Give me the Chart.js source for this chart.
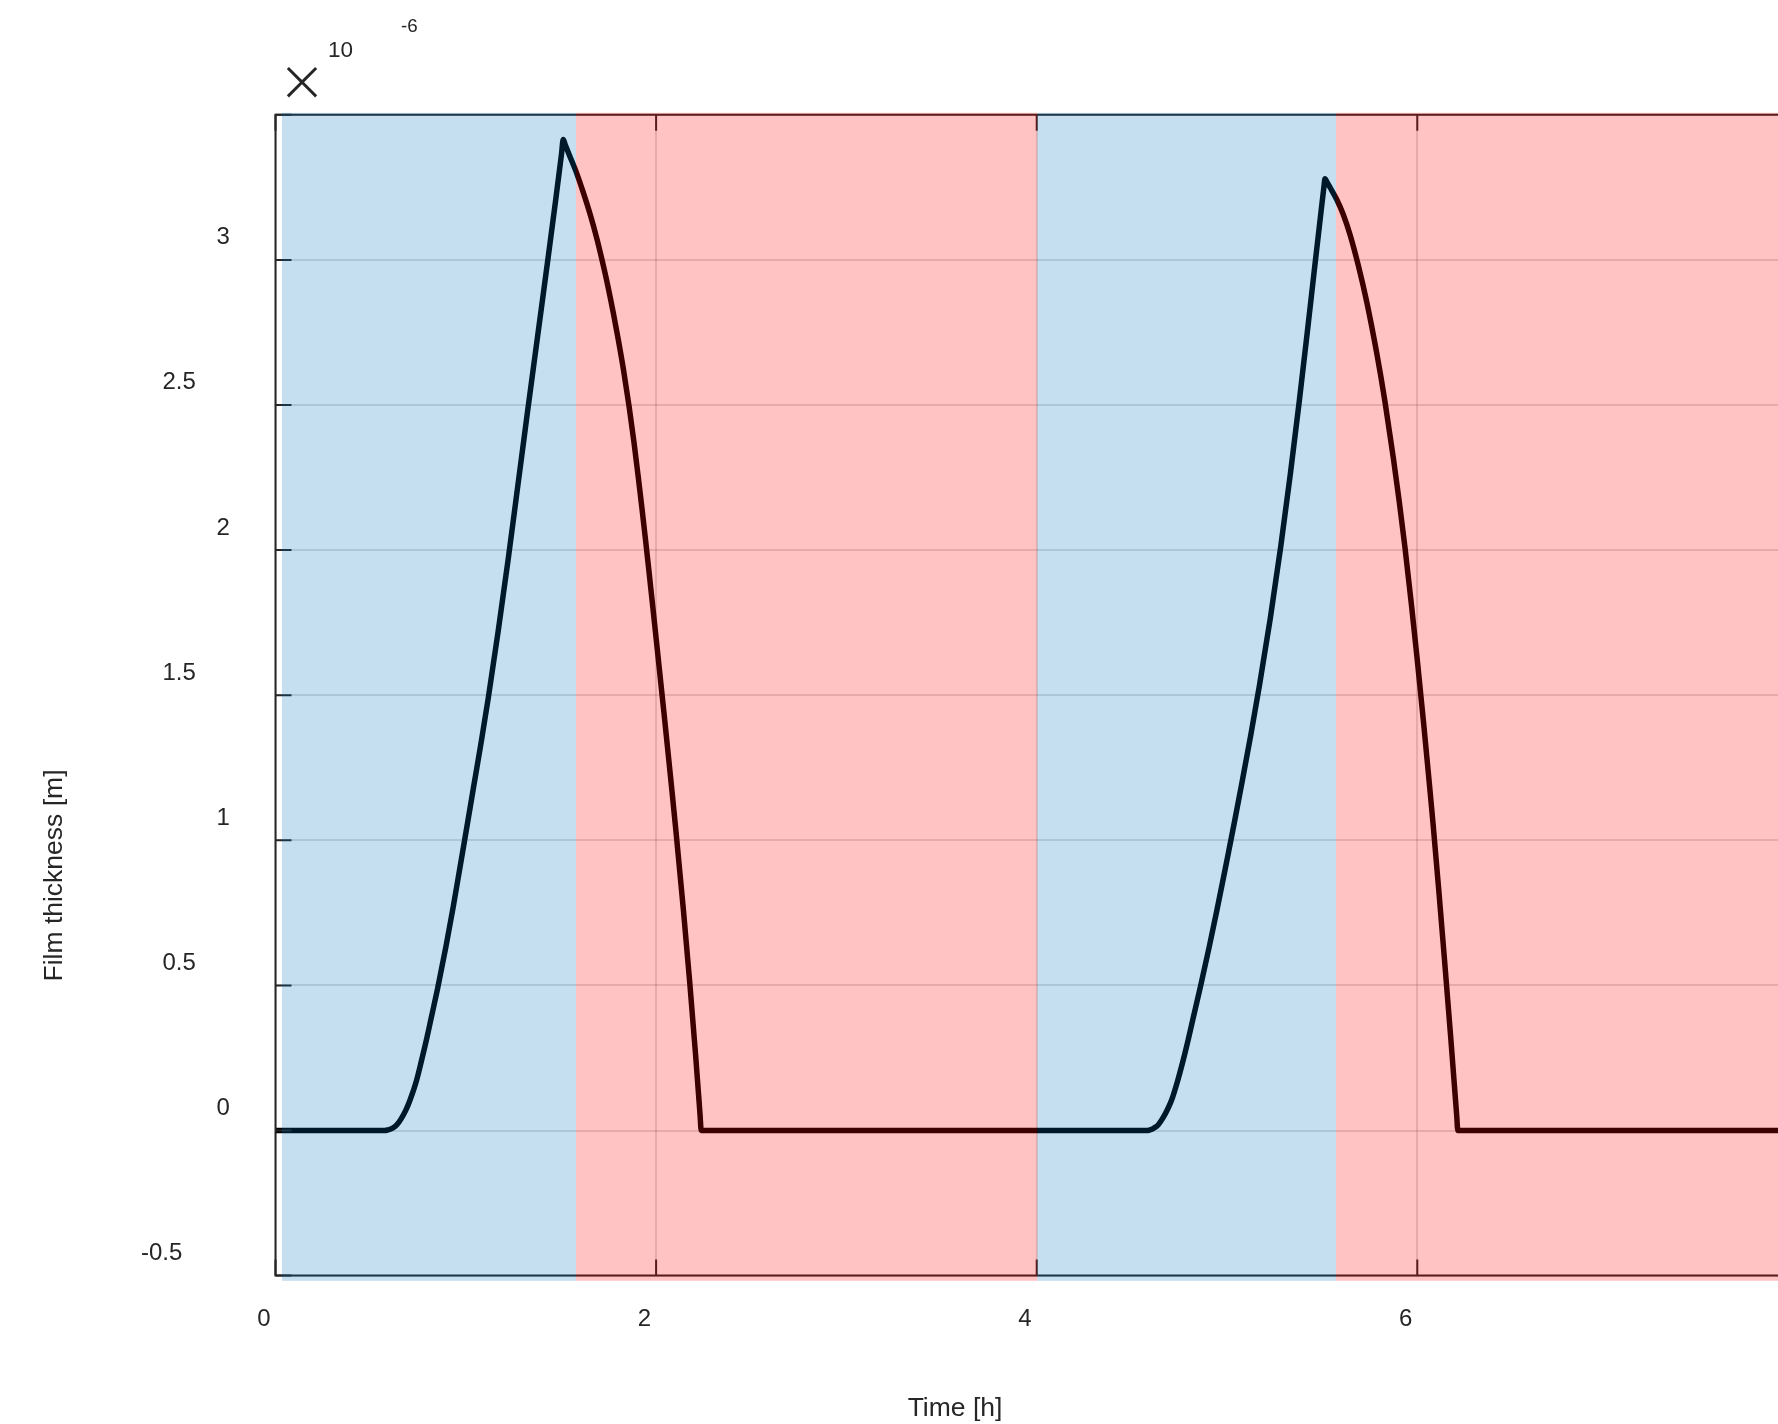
<!DOCTYPE html>
<html>
<head>
<meta charset="utf-8">
<title>Film thickness</title>
<script src="https://cdn.jsdelivr.net/npm/chart.js@4.4.1/dist/chart.umd.min.js"></script>
<style>
html, body { margin: 0; padding: 0; background: #fff; overflow: hidden; }
canvas { display: block; }
</style>
</head>
<body>
<canvas id="filmChart" width="1860" height="1424"></canvas>
<script>
// time axis [h] and film thickness [x 1e-6 m]
var timeH = [
    0, 0.575, 0.59, 0.615, 0.637, 0.66, 0.685, 0.707, 0.74, 0.768, 0.794, 0.816, 0.852, 0.896, 0.934, 0.970,
    0.992, 1.04, 1.08, 1.118, 1.17, 1.223, 1.273, 1.323, 1.378, 1.434, 1.475, 1.503, 1.512, 1.522, 1.545,
    1.579, 1.615, 1.653, 1.69, 1.714, 1.745, 1.775, 1.80, 1.828, 1.858, 1.884, 1.906, 1.926, 1.945, 1.964,
    1.983, 2.002, 2.02, 2.041, 2.063, 2.084, 2.105, 2.143, 2.177, 2.207, 2.231, 2.237,
    4.578, 4.59, 4.605, 4.62, 4.639, 4.665, 4.689, 4.709, 4.74, 4.770, 4.795, 4.820, 4.862, 4.907, 4.946,
    4.986, 5.011, 5.04, 5.077, 5.125, 5.17, 5.228, 5.283, 5.333, 5.38, 5.422, 5.462, 5.495, 5.509, 5.515,
    5.524, 5.545, 5.576, 5.61, 5.647, 5.690, 5.734, 5.787, 5.830, 5.874, 5.905, 5.935, 5.97, 6.0, 6.033,
    6.066, 6.083, 6.113, 6.143, 6.175, 6.207, 6.213, 8
];
var thicknessE6 = [
    0, 0, 0.002, 0.008, 0.019, 0.04, 0.07, 0.105, 0.17, 0.243, 0.315, 0.381, 0.49, 0.635, 0.771, 0.909,
    0.993, 1.18, 1.335, 1.49, 1.72, 1.97, 2.22, 2.47, 2.74, 3.015, 3.22, 3.365, 3.415, 3.398, 3.36,
    3.305, 3.237, 3.158, 3.07, 3.005, 2.915, 2.818, 2.73, 2.624, 2.495, 2.37, 2.253, 2.142, 2.032, 1.918,
    1.802, 1.684, 1.572, 1.441, 1.301, 1.166, 1.027, 0.763, 0.508, 0.265, 0.054, 0,
    0, 0.001, 0.004, 0.01, 0.02, 0.045, 0.075, 0.105, 0.17, 0.243, 0.31, 0.381, 0.5, 0.634, 0.756,
    0.886, 0.969, 1.066, 1.193, 1.363, 1.532, 1.767, 2.015, 2.263, 2.514, 2.751, 2.983, 3.171, 3.25, 3.28,
    3.27, 3.246, 3.209, 3.158, 3.086, 2.981, 2.856, 2.678, 2.512, 2.318, 2.168, 2.01, 1.807, 1.621, 1.405,
    1.177, 1.055, 0.827, 0.588, 0.326, 0.052, 0, 0
];

// shaded phases (hours)
var phaseFrom = [0.034, 1.579, 4.004, 5.573];
var phaseTo = [1.579, 4.004, 5.573, 8];
var phaseKind = ['growth', 'decay', 'growth', 'decay'];

var xMin = 0, xMax = 8;
var yMin = -0.5, yMax = 3.5;
var xTickValues = [0, 2, 4, 6, 8];
var xTickLabels = ['0', '2', '4', '6', '8'];
var yTickValues = [-0.5, 0, 0.5, 1, 1.5, 2, 2.5, 3, 3.5];
var yTickLabels = ['-0.5', '0', '0.5', '1', '1.5', '2', '2.5', '3', ''];

var FONT = '"Liberation Sans", Arial, Helvetica, sans-serif';
var TEXT = '#262626';
var phaseFill = { growth: 'rgba(0, 114, 189, 0.225)', decay: 'rgba(255, 0, 0, 0.235)' };

var framePlugin = {
    id: 'frame',
    afterDatasetsDraw: function (chart) {
        var ctx = chart.ctx, a = chart.chartArea, x = chart.scales.x, y = chart.scales.y;
        ctx.save();
        ctx.strokeStyle = TEXT;
        ctx.lineWidth = 2;
        ctx.beginPath();
        ctx.moveTo(a.right, a.top);
        ctx.lineTo(a.left, a.top);
        ctx.lineTo(a.left, a.bottom);
        ctx.lineTo(a.right, a.bottom);
        ctx.stroke();
        // inward ticks like matlab
        var len = 16;
        ctx.beginPath();
        xTickValues.forEach(function (v) {
            var px = x.getPixelForValue(v);
            ctx.moveTo(px, a.bottom); ctx.lineTo(px, a.bottom - len);
            ctx.moveTo(px, a.top); ctx.lineTo(px, a.top + len);
        });
        yTickValues.forEach(function (v) {
            var py = y.getPixelForValue(v);
            ctx.moveTo(a.left, py); ctx.lineTo(a.left + len, py);
        });
        ctx.stroke();
        ctx.restore();
    },
    afterDraw: function (chart) {
        var ctx = chart.ctx, x = chart.scales.x, y = chart.scales.y;
        ctx.save();

        // translucent phase patches drawn over everything
        var top = y.getPixelForValue(yMax) - 2;
        var bottom = y.getPixelForValue(yMin - 0.018);
        for (var i = 0; i < phaseFrom.length; i++) {
            var x0 = x.getPixelForValue(phaseFrom[i]);
            var x1 = x.getPixelForValue(phaseTo[i]);
            ctx.fillStyle = phaseFill[phaseKind[i]];
            ctx.fillRect(x0, top, x1 - x0, bottom - top);
        }

        ctx.fillStyle = TEXT;
        ctx.textBaseline = 'alphabetic';

        // y tick labels (offset like the exported figure)
        ctx.font = '24px ' + FONT;
        ctx.textAlign = 'left';
        yTickValues.forEach(function (v, i) {
            var s = yTickLabels[i];
            if (!s) return;
            var w = ctx.measureText(s).width;
            var cx = 252.6 - 2.2 * w;
            ctx.fillText(s, cx - w / 2, y.getPixelForValue(v) - 15.6);
        });

        // axis titles
        ctx.font = '26.5px ' + FONT;
        ctx.textAlign = 'center';
        ctx.fillText('Time [h]', 955, 1416);
        ctx.save();
        ctx.translate(62, 875.5);
        ctx.rotate(-Math.PI / 2);
        ctx.fillText('Film thickness [m]', 0, 0);
        ctx.restore();

        // exponent marker
        ctx.textAlign = 'left';
        var xfam = 'px Inter, "Noto Sans", "DejaVu Sans", sans-serif';
        ctx.font = '200 100' + xfam;
        var m = ctx.measureText('\u00d7');
        var bw = m.actualBoundingBoxRight + m.actualBoundingBoxLeft;
        ctx.font = '200 ' + (100 * 31 / bw) + xfam;
        m = ctx.measureText('\u00d7');
        ctx.fillText('\u00d7', 301.7 - (m.actualBoundingBoxRight - m.actualBoundingBoxLeft) / 2,
            82.5 - (m.actualBoundingBoxDescent - m.actualBoundingBoxAscent) / 2);
        ctx.font = '22.5px ' + FONT;
        ctx.fillText('10', 328, 57);
        ctx.font = '18.8px ' + FONT;
        ctx.fillText('-6', 401, 32.3);

        ctx.restore();
    }
};

var points = timeH.map(function (t, i) { return { x: t, y: thicknessE6[i] }; });
var gridColor = 'rgba(38, 38, 38, 0.15)';

new Chart(document.getElementById('filmChart'), {
    type: 'line',
    data: {
        datasets: [{
            label: 'Film thickness',
            data: points,
            borderColor: '#000000',
            borderWidth: 5.5,
            pointRadius: 0,
            cubicInterpolationMode: 'monotone',
            borderJoinStyle: 'round',
            fill: false
        }]
    },
    options: {
        responsive: false,
        animation: false,
        devicePixelRatio: 1,
        layout: { padding: { left: 0, top: 114.8, right: 1860 - 1797.9, bottom: 0 } },
        plugins: { legend: { display: false }, tooltip: { enabled: false } },
        scales: {
            x: {
                type: 'linear',
                min: xMin,
                max: xMax,
                afterBuildTicks: function (s) { s.ticks = xTickValues.map(function (v) { return { value: v }; }); },
                afterFit: function (s) { s.height = 1424 - 1275.6; },
                ticks: {
                    callback: function (v, i) { return xTickLabels[i]; },
                    labelOffset: -11.7,
                    padding: 28.9,
                    autoSkip: false,
                    maxRotation: 0,
                    color: TEXT,
                    font: { family: FONT, size: 24 }
                },
                grid: { color: gridColor, lineWidth: 2, drawTicks: false },
                border: { display: false }
            },
            y: {
                type: 'linear',
                min: yMin,
                max: yMax,
                afterBuildTicks: function (s) { s.ticks = yTickValues.map(function (v) { return { value: v }; }); },
                afterFit: function (s) { s.width = 275.5; },
                ticks: { display: false },
                grid: { color: gridColor, lineWidth: 2, drawTicks: false },
                border: { display: false }
            }
        }
    },
    plugins: [framePlugin]
});
</script>
</body>
</html>
